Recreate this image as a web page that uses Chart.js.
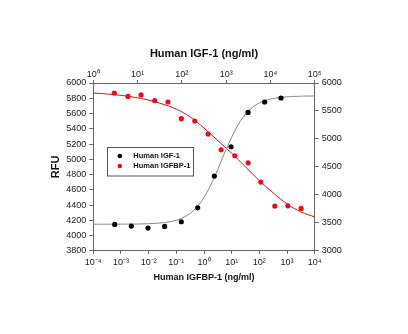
<!DOCTYPE html>
<html>
<head>
<meta charset="utf-8">
<script src="https://cdn.jsdelivr.net/npm/chart.js@4/dist/chart.umd.min.js"></script>
<style>
  html, body { margin: 0; padding: 0; background: #fff; }
  #wrap { width: 408px; height: 334px; }
</style>
</head>
<body>
<div id="wrap"><canvas id="c" width="408" height="334"></canvas></div>
<script>
// ---- data ----
// Human IGFBP-1 (bottom axis, left axis)
const bp1Conc = [0.000575, 0.0018, 0.0053, 0.0166, 0.050, 0.152, 0.464, 1.41, 4.15, 13.0, 39.4, 113, 363, 1072, 3236];
const bp1Rfu  = [5869, 5824, 5843, 5768, 5751, 5532, 5502, 5331, 5125, 5046, 4954, 4701, 4387, 4390, 4355];
const bp1FitConc = [0.0001, 0.000316, 0.001, 0.00316, 0.01, 0.0316, 0.1, 0.316, 1, 3.16, 10, 31.6, 100, 316, 1000, 3160, 10000];
const bp1FitRfu  = [5869, 5856, 5838, 5812, 5776, 5724, 5658, 5555, 5410, 5245, 5080, 4900, 4720, 4560, 4415, 4310, 4245];

// Human IGF-1 (top axis, right axis)
const igfConc = [3.04, 7.21, 17.2, 40.9, 97.0, 228, 541, 1288, 3119, 7430, 17340];
const igfRfu  = [3471, 3442, 3406, 3435, 3519, 3769, 4336, 4860, 5474, 5660, 5732];
const igfFitConc = [1, 3.16, 10, 31.6, 56.2, 100, 178, 316, 562, 1000, 1778, 3162, 5623, 10000, 31623, 100000];
const igfFitRfu  = [3475, 3476, 3479, 3496, 3523, 3583, 3710, 3953, 4341, 4812, 5226, 5497, 5643, 5713, 5759, 5768];

// tick positions
const bottomTicks = [1e-4, 1e-3, 1e-2, 1e-1, 1, 1e1, 1e2, 1e3, 1e4];
const topTicks = [1, 1e1, 1e2, 1e3, 1e4, 1e5];

const LABEL_IGF = 'Human IGF-1';
const LABEL_BP1 = 'Human IGFBP-1';
const RED = '#e3101b';
const AXIS = '#666';
const FONT = 'Arial, "Liberation Sans", Helvetica, sans-serif';

const SUP = { '-': '\u207B', '0': '\u2070', '1': '\u00B9', '2': '\u00B2', '3': '\u00B3',
  '4': '\u2074', '5': '\u2075', '6': '\u2076', '7': '\u2077', '8': '\u2078', '9': '\u2079' };
function powLabel(v) {
  const e = String(Math.round(Math.log10(v)));
  return '10' + e.split('').map(ch => SUP[ch]).join('');
}
function pts(xs, ys) { return xs.map((x, i) => ({ x: x, y: ys[i] })); }

const tickFont = { family: FONT, size: 9 };
const gridOpt = { display: true, drawOnChartArea: false, drawTicks: true, tickLength: 3, color: AXIS };

// legend drawn inside the plot area
const boxLegend = {
  id: 'boxLegend',
  afterDraw(chart) {
    const ctx = chart.ctx;
    const a = chart.chartArea;
    const items = chart.data.datasets.filter(d => d.legendItem);
    const x0 = a.left + 14, y0 = a.top + 63.5, w = 86, h = 28.5;
    ctx.save();
    ctx.strokeStyle = '#555';
    ctx.lineWidth = 1;
    ctx.strokeRect(Math.round(x0) + 0.5, Math.round(y0) + 0.5, w, h);
    ctx.font = 'bold 7.5px ' + FONT;
    ctx.textBaseline = 'middle';
    items.forEach((d, i) => {
      const cy = y0 + 9.5 + i * 10;
      ctx.fillStyle = d.backgroundColor;
      ctx.beginPath();
      ctx.arc(x0 + 12.5, cy, 2.3, 0, Math.PI * 2);
      ctx.fill();
      ctx.fillStyle = '#111';
      ctx.fillText(d.label, x0 + 26, cy);
    });
    ctx.restore();
  }
};

new Chart(document.getElementById('c'), {
  type: 'scatter',
  data: {
    datasets: [
      { label: LABEL_IGF, legendItem: true, data: pts(igfConc, igfRfu), xAxisID: 'xT', yAxisID: 'yR',
        backgroundColor: '#000', borderColor: '#000', pointRadius: 2.6, borderWidth: 0, order: 1 },
      { label: LABEL_BP1, legendItem: true, data: pts(bp1Conc, bp1Rfu), xAxisID: 'xB', yAxisID: 'yL',
        backgroundColor: RED, borderColor: RED, pointRadius: 2.6, borderWidth: 0, order: 1 },
      { label: 'IGF-1 fit', data: pts(igfFitConc, igfFitRfu), xAxisID: 'xT', yAxisID: 'yR',
        showLine: true, pointRadius: 0, borderColor: '#8a8a8a', borderWidth: 1,
        cubicInterpolationMode: 'monotone', order: 2 },
      { label: 'IGFBP-1 fit', data: pts(bp1FitConc, bp1FitRfu), xAxisID: 'xB', yAxisID: 'yL',
        showLine: true, pointRadius: 0, borderColor: RED, borderWidth: 1,
        cubicInterpolationMode: 'monotone', order: 2 }
    ]
  },
  options: {
    responsive: false,
    animation: false,
    devicePixelRatio: 1,
    layout: { padding: { left: 49, right: 0, top: 47, bottom: 51 } },
    plugins: { legend: { display: false }, tooltip: { enabled: false } },
    scales: {
      xB: {
        type: 'logarithmic', position: 'bottom', min: 1e-4, max: 1e4,
        afterBuildTicks: s => { s.ticks = bottomTicks.map(v => ({ value: v })); },
        afterFit: s => { s.height = 32.2; },
        ticks: { font: tickFont, color: '#222', padding: 3, maxRotation: 0, autoSkip: false, callback: v => powLabel(v) },
        grid: gridOpt, border: { color: AXIS },
        title: { display: true, text: 'Human IGFBP-1 (ng/ml)', font: { family: FONT, size: 9, weight: 'bold' }, color: '#111', padding: 0 }
      },
      xT: {
        type: 'logarithmic', position: 'top', min: 1, max: 1e5,
        afterBuildTicks: s => { s.ticks = topTicks.map(v => ({ value: v })); },
        afterFit: s => { s.height = 36; },
        ticks: { font: tickFont, color: '#222', padding: 0, maxRotation: 0, autoSkip: false, callback: v => powLabel(v) },
        grid: gridOpt, border: { color: AXIS },
        title: { display: true, text: 'Human IGF-1 (ng/ml)', font: { family: FONT, size: 11, weight: 'bold' }, color: '#111', padding: 0 }
      },
      yL: {
        type: 'linear', position: 'left', min: 3800, max: 6000,
        afterFit: s => { s.width = 44.3; },
        ticks: { stepSize: 200, font: tickFont, color: '#222', padding: 3, callback: v => String(v) },
        grid: Object.assign({}, gridOpt, { tickLength: 4 }), border: { color: AXIS },
        title: { display: true, text: 'RFU', font: { family: FONT, size: 11, weight: 'bold' }, color: '#111', padding: 0 }
      },
      yR: {
        type: 'linear', position: 'right', min: 3000, max: 6000,
        afterFit: s => { s.width = 93.3; },
        ticks: { stepSize: 500, font: tickFont, color: '#222', padding: 3, callback: v => String(v) },
        grid: Object.assign({}, gridOpt, { tickLength: 4 }), border: { color: AXIS }
      }
    }
  },
  plugins: [boxLegend]
});
</script>
</body>
</html>
